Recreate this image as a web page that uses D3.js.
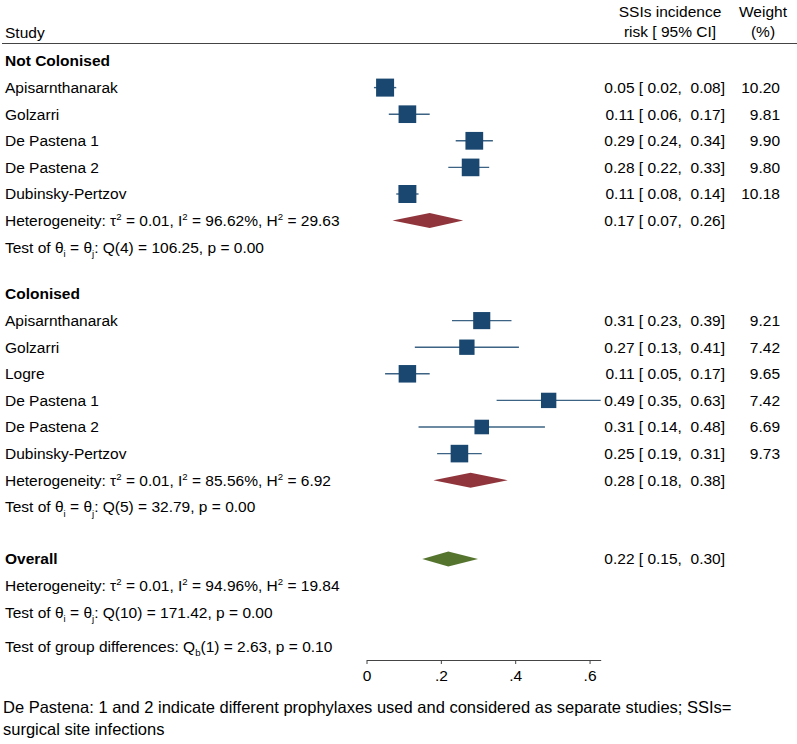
<!DOCTYPE html>
<html><head><meta charset="utf-8">
<script src="https://cdn.jsdelivr.net/npm/d3@7"></script>
<style>
body{margin:0;background:#fff}
text{font-family:"Liberation Sans",Arial,Helvetica,sans-serif;white-space:pre;fill:#000}
</style>
</head><body>
<svg id="chart" width="797" height="744"></svg>
<script>
// ---- data ----
const groupNames = ["Not Colonised", "Colonised"];

const studiesNC = ["Apisarnthanarak", "Golzarri", "De Pastena 1", "De Pastena 2", "Dubinsky-Pertzov"];
const estNC = [0.05, 0.11, 0.29, 0.28, 0.11];
const loNC  = [0.02, 0.06, 0.24, 0.22, 0.08];
const hiNC  = [0.08, 0.17, 0.34, 0.33, 0.14];
const wNC   = [10.20, 9.81, 9.90, 9.80, 10.18];
const summNC = [0.17, 0.07, 0.26];
const hetNC  = ["0.01", "96.62", "29.63"];
const testNC = ["4", "106.25", "0.00"];

const studiesC = ["Apisarnthanarak", "Golzarri", "Logre", "De Pastena 1", "De Pastena 2", "Dubinsky-Pertzov"];
const estC = [0.31, 0.27, 0.11, 0.49, 0.31, 0.25];
const loC  = [0.23, 0.13, 0.05, 0.35, 0.14, 0.19];
const hiC  = [0.39, 0.41, 0.17, 0.63, 0.48, 0.31];
const wC   = [9.21, 7.42, 9.65, 7.42, 6.69, 9.73];
const summC = [0.28, 0.18, 0.38];
const hetC  = ["0.01", "85.56", "6.92"];
const testC = ["5", "32.79", "0.00"];

const summAll = [0.22, 0.15, 0.30];
const hetAll  = ["0.01", "94.96", "19.84"];
const testAll = ["10", "171.42", "0.00"];
const groupDiff = ["1", "2.63", "0.10"];

const xTicks = [0, 0.2, 0.4, 0.6];
const xTickLabels = ["0", ".2", ".4", ".6"];

const headerStudy = "Study";
const headerEffect = ["SSIs incidence", "risk [ 95% CI]"];
const headerWeight = ["Weight", "(%)"];
const footnote = ["De Pastena: 1 and 2 indicate different prophylaxes used and considered as separate studies; SSIs=",
                  "surgical site infections"];

// ---- layout / style ----
const FS = 15.5;
const blue = "#1a476f", red = "#90353b", green = "#55752f";
const svg = d3.select("#chart");
const x = d3.scaleLinear().domain([0, 0.63]).range([366.5, 600.7]);
const step = 26.6;
const xLabel = 5, xEffR = 725, xWR = 780;
const size = d3.scaleSqrt().domain([0, 10.2]).range([0, 18]);
const f2 = d3.format(".2f");

function rich(y, xp, parts, opts = {}) {
  const fs = opts.fs || FS;
  const t = svg.append("text").attr("x", xp).attr("y", y).attr("dy", "0.35em")
    .attr("font-size", fs).attr("font-weight", opts.bold ? "bold" : null)
    .attr("text-anchor", opts.anchor || "start");
  let pending = 0;
  parts.forEach(p => {
    if (typeof p === "string") {
      const ts = t.append("tspan").text(p);
      if (pending) { ts.attr("dy", (-pending * fs) + "px"); pending = 0; }
    } else {
      const sh = p.sub ? 0.28 : -0.38;
      t.append("tspan").attr("font-size", fs * 0.62).attr("dy", (sh * fs) + "px").text(p.sub || p.sup);
      pending = sh;
    }
  });
  return t;
}
function ci(e, l, h) { return f2(e) + " [ " + f2(l) + ",  " + f2(h) + "]"; }

function diamond(y, s, col) {
  const hh = 7.5;
  svg.append("path")
    .attr("d", `M${x(s[1])},${y}L${x(s[0])},${y - hh}L${x(s[2])},${y}L${x(s[0])},${y + hh}Z`)
    .attr("fill", col);
}
function hetLine(y, h) {
  rich(y, xLabel, ["Heterogeneity: \u03C4", {sup: "2"}, " = " + h[0] + ", I", {sup: "2"}, " = " + h[1] + "%, H", {sup: "2"}, " = " + h[2]]);
}
function testLine(y, q) {
  rich(y, xLabel, ["Test of \u03B8", {sub: "i"}, " = \u03B8", {sub: "j"}, ": Q(" + q[0] + ") = " + q[1] + ", p = " + q[2]]);
}

function group(y0, name, st, est, lo, hi, w, summ, het, test) {
  rich(y0, xLabel, [name], {bold: true});
  st.forEach((s, i) => {
    const y = y0 + step * (i + 1);
    rich(y, xLabel, [s]);
    svg.append("line").attr("x1", x(lo[i])).attr("x2", x(hi[i])).attr("y1", y).attr("y2", y)
      .attr("stroke", blue).attr("stroke-width", 1.4).attr("stroke-opacity", 0.85);
    const sz = size(w[i]);
    svg.append("rect").attr("x", x(est[i]) - sz / 2).attr("y", y - sz / 2)
      .attr("width", sz).attr("height", sz).attr("fill", blue);
    rich(y, xEffR, [ci(est[i], lo[i], hi[i])], {anchor: "end"});
    rich(y, xWR, [f2(w[i])], {anchor: "end"});
  });
  const yh = y0 + step * (st.length + 1);
  hetLine(yh, het);
  diamond(yh, summ, red);
  rich(yh, xEffR, [ci(summ[0], summ[1], summ[2])], {anchor: "end"});
  testLine(yh + step, test);
}

// header
rich(33, xLabel, [headerStudy]);
rich(12, 670, [headerEffect[0]], {anchor: "middle"});
rich(31.5, 670, [headerEffect[1]], {anchor: "middle"});
rich(12, 763, [headerWeight[0]], {anchor: "middle"});
rich(31.5, 763, [headerWeight[1]], {anchor: "middle"});
svg.append("line").attr("x1", 2).attr("x2", 797).attr("y1", 43.5).attr("y2", 43.5)
  .attr("stroke", "#444").attr("stroke-width", 1.2);

group(61, groupNames[0], studiesNC, estNC, loNC, hiNC, wNC, summNC, hetNC, testNC);
group(294, groupNames[1], studiesC, estC, loC, hiC, wC, summC, hetC, testC);

// overall
const yo = 559;
rich(yo, xLabel, ["Overall"], {bold: true});
diamond(yo, summAll, green);
rich(yo, xEffR, [ci(summAll[0], summAll[1], summAll[2])], {anchor: "end"});
hetLine(yo + step, hetAll);
testLine(yo + 2 * step, testAll);
rich(646.7, xLabel, ["Test of group differences: Q", {sub: "b"}, "(" + groupDiff[0] + ") = " + groupDiff[1] + ", p = " + groupDiff[2]]);

// axis
const ax = svg.append("g").attr("transform", "translate(0,660)")
  .call(d3.axisBottom(x).tickValues(xTicks).tickSize(4).tickSizeOuter(0).tickPadding(6)
    .tickFormat((d, i) => xTickLabels[i]));
ax.select(".domain").attr("stroke", "#444");
ax.selectAll(".tick line").attr("stroke", "#444");
ax.selectAll(".tick text").attr("font-size", FS).attr("font-family", '"Liberation Sans",Arial,sans-serif').attr("fill", "#000");

// footnote
rich(707.5, 3, [footnote[0]], {fs: 16.5});
rich(729, 3, [footnote[1]], {fs: 16.5});
</script>
</body></html>
